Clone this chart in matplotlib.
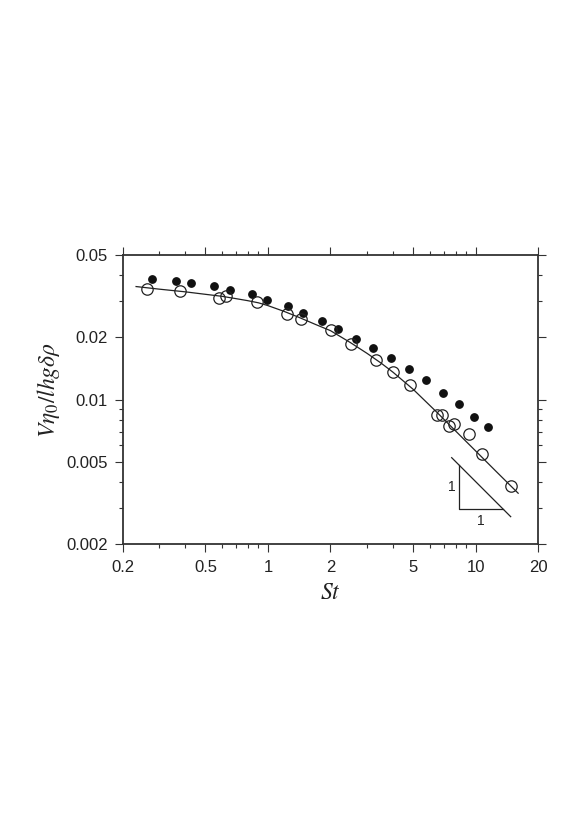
import matplotlib
matplotlib.use("Agg")
import matplotlib.pyplot as plt
from matplotlib.ticker import FixedLocator, NullFormatter, FixedFormatter

plt.rcParams['font.family'] = ['Liberation Sans', 'DejaVu Sans']
plt.rcParams['mathtext.fontset'] = 'stix'

# Open circles
st_open = [0.261, 0.377, 0.581, 0.628, 0.883, 1.239, 1.442, 2.02, 2.50, 3.30, 4.01,
           4.83, 6.53, 6.90, 7.46, 7.86, 9.31, 10.75, 14.73]
v_open = [0.0342, 0.0333, 0.0308, 0.0316, 0.0296, 0.0259, 0.0244, 0.0217, 0.0185,
          0.0155, 0.01353, 0.01172, 0.00845, 0.00845, 0.00748, 0.00762, 0.00682,
          0.00546, 0.00383]

# Filled dots
st_fill = [0.276, 0.361, 0.428, 0.550, 0.657, 0.835, 0.993, 1.245, 1.474, 1.826,
           2.18, 2.66, 3.20, 3.90, 4.76, 5.74, 6.98, 8.35, 9.84, 11.42]
v_fill = [0.0380, 0.0373, 0.0364, 0.0353, 0.0338, 0.0322, 0.0302, 0.0283, 0.0262,
          0.0239, 0.0218, 0.0196, 0.0177, 0.0158, 0.0140, 0.01238, 0.01079,
          0.00956, 0.00828, 0.00737]

# Fitted curve
st_curve = [0.232, 0.3, 0.4, 0.5, 0.6, 0.7, 0.8, 0.9, 1.0, 1.2, 1.4, 1.7, 2.0,
            2.5, 3.0, 3.5, 4.0, 5.0, 6.5, 8.0, 10.0, 12.5, 16.0]
v_curve = [0.0351, 0.0341, 0.0331, 0.0322, 0.0315, 0.0307, 0.0300, 0.0293, 0.0284,
           0.0266, 0.0250, 0.0230, 0.0215, 0.0188, 0.0167, 0.0150, 0.01354, 0.0112,
           0.00868, 0.00705, 0.00564, 0.00451, 0.00353]

# Slope triangle
tri_hyp_x = [7.66, 14.73]
tri_hyp_y = [0.00524, 0.00272]
tri_leg_x = [8.34, 8.34, 13.49]
tri_leg_y = [0.00483, 0.00295, 0.00295]

x_major = [0.2, 0.5, 1, 2, 5, 10, 20]
x_major_labels = ['0.2', '0.5', '1', '2', '5', '10', '20']
x_minor = [0.3, 0.4, 0.6, 0.7, 0.8, 0.9, 3, 4, 6, 7, 8, 9]
y_major = [0.002, 0.005, 0.01, 0.02, 0.05]
y_major_labels = ['0.002', '0.005', '0.01', '0.02', '0.05']
y_minor = [0.003, 0.004, 0.006, 0.007, 0.008, 0.009, 0.03, 0.04]

fig = plt.figure(figsize=(5.82, 8.23), dpi=100)
ax = fig.add_axes([0.2108, 0.3386, 0.7141, 0.3519])
ax.set_xscale('log')
ax.set_yscale('log')
ax.set_xlim(0.2, 20)
ax.set_ylim(0.002, 0.05)

ax.plot(st_curve, v_curve, color='#222222', lw=0.9, zorder=2)
ax.plot(st_fill, v_fill, 'o', color='#111111', ms=5.3, mec='#111111', zorder=3)
ax.plot(st_open, v_open, 'o', mfc='none', mec='#222222', ms=8.2, mew=0.9, zorder=3)

ax.plot(tri_hyp_x, tri_hyp_y, color='#222222', lw=0.9)
ax.plot(tri_leg_x, tri_leg_y, color='#222222', lw=0.9)
ax.text(7.66, 0.00377, '1', ha='center', va='center', fontsize=10, color='#222222')
ax.text(10.56, 0.00260, '1', ha='center', va='center', fontsize=10, color='#222222')

ax.xaxis.set_major_locator(FixedLocator(x_major))
ax.xaxis.set_major_formatter(FixedFormatter(x_major_labels))
ax.xaxis.set_minor_locator(FixedLocator(x_minor))
ax.xaxis.set_minor_formatter(NullFormatter())
ax.yaxis.set_major_locator(FixedLocator(y_major))
ax.yaxis.set_major_formatter(FixedFormatter(y_major_labels))
ax.yaxis.set_minor_locator(FixedLocator(y_minor))
ax.yaxis.set_minor_formatter(NullFormatter())

ax.tick_params(which='both', direction='out', top=True, right=True,
               color='#333333', width=0.8)
ax.tick_params(which='major', length=5.5, labelsize=12, labelcolor='#222222')
ax.tick_params(axis='x', which='major', pad=6)
ax.tick_params(axis='y', which='major', pad=5)
ax.tick_params(which='minor', length=3)
for sp in ax.spines.values():
    sp.set_linewidth(1.3)
    sp.set_color('#333333')

ax.set_xlabel(r'$St$', fontsize=17, labelpad=5, color='#222222')
ax.set_ylabel(r'$V\eta_0/lhg\delta\rho$', fontsize=17, color='#222222')
ax.yaxis.set_label_coords(-0.146, 0.533)

fig.savefig('out.png', dpi=100)
